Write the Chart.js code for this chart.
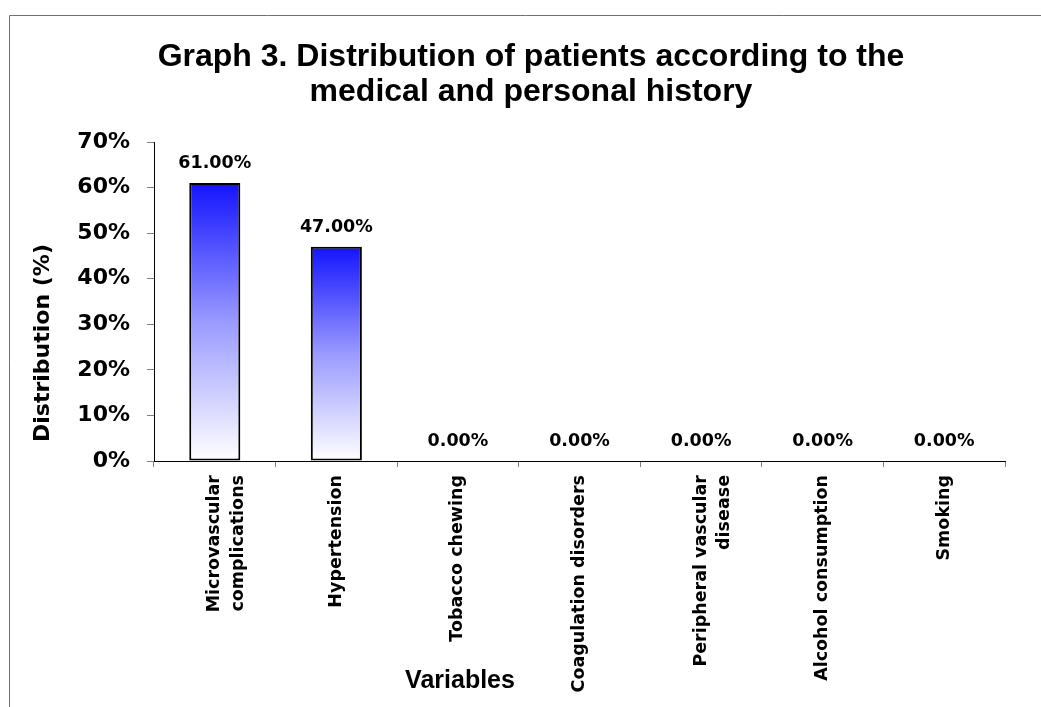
<!DOCTYPE html>
<html>
<head>
<meta charset="utf-8">
<script src="https://cdn.jsdelivr.net/npm/chart.js@4/dist/chart.umd.min.js"></script>
<style>
html,body{margin:0;padding:0;background:#fff;}
#wrap{width:1041px;height:707px;position:relative;}
</style>
</head>
<body>
<div id="wrap"><canvas id="c" width="1041" height="707"></canvas></div>
<script>
const categories = [
  ["Microvascular","complications"],
  "Hypertension",
  "Tobacco chewing",
  "Coagulation disorders",
  ["Peripheral vascular","disease"],
  "Alcohol consumption",
  "Smoking"
];
const values = [61, 47, 0, 0, 0, 0, 0];
const yTicks = [0, 10, 20, 30, 40, 50, 60, 70];
const titleLines = ["Graph 3. Distribution of patients according to the", "medical and personal history"];
const yTitle = "Distribution (%)";
const xTitle = "Variables";

const WIDE = "'DejaVu Sans', sans-serif";
const ARIAL = "'Liberation Sans', Arial, sans-serif";

function barGradient(ctx) {
  const chart = ctx.chart;
  if (!chart.chartArea || ctx.type !== 'data') return '#4040ff';
  const y = chart.scales.y;
  const v = ctx.raw;
  const top = y.getPixelForValue(v);
  const bot = y.getPixelForValue(0);
  if (bot - top < 1) return '#ffffff';
  const g = chart.ctx.createLinearGradient(0, top, 0, bot);
  g.addColorStop(0, '#1414ff');
  g.addColorStop(0.5, '#9a9aff');
  g.addColorStop(1, '#ffffff');
  return g;
}

const decor = {
  id: 'decor',
  beforeDraw(chart) {
    const c = chart.ctx;
    c.save();
    c.strokeStyle = '#707070';
    c.lineWidth = 1;
    c.beginPath();
    c.moveTo(9.5, 707);
    c.lineTo(9.5, 15.5);
    c.lineTo(1041, 15.5);
    c.stroke();
    c.restore();
  },
  afterDraw(chart) {
    const c = chart.ctx;
    c.save();
    c.fillStyle = '#000';
    c.textAlign = 'center';
    c.textBaseline = 'alphabetic';
    c.font = "bold 32px " + ARIAL;
    c.fillText(titleLines[0], 531, 66);
    c.fillText(titleLines[1], 531, 101);
    c.font = "bold 25px " + ARIAL;
    c.fillText(xTitle, 460, 688);
    c.translate(43, 343);
    c.rotate(-Math.PI / 2);
    c.textBaseline = 'middle';
    c.font = "bold 22px " + WIDE;
    c.fillText(yTitle, 0, 0);
    c.restore();
    // data labels
    c.save();
    c.fillStyle = '#000';
    c.textAlign = 'center';
    c.textBaseline = 'alphabetic';
    c.font = "bold 17.5px " + WIDE;
    const meta = chart.getDatasetMeta(0);
    meta.data.forEach((bar, i) => {
      c.fillText(values[i].toFixed(2) + '%', bar.x, bar.y - 15);
    });
    c.restore();
  }
};

new Chart(document.getElementById('c'), {
  type: 'bar',
  data: {
    labels: categories,
    datasets: [{
      data: values,
      backgroundColor: barGradient,
      borderColor: '#000',
      borderWidth: 2,
      borderSkipped: false,
      barPercentage: 0.84,
      categoryPercentage: 0.5
    }]
  },
  options: {
    responsive: false,
    animation: false,
    layout: { padding: { left: 0, right: 36, top: 142, bottom: 0 } },
    plugins: { legend: { display: false }, title: { display: false }, tooltip: { enabled: false } },
    scales: {
      x: {
        grid: { drawOnChartArea: false, tickLength: 6, color: '#808080', offset: true },
        border: { color: '#000', width: 1 },
        ticks: {
          color: '#000',
          font: { family: WIDE, size: 17.5, weight: 'bold', lineHeight: 1.35 },
          maxRotation: 90, minRotation: 90,
          padding: 8,
          autoSkip: false
        },
        afterFit(scale) { scale.height = 246; }
      },
      y: {
        min: 0, max: 70,
        grid: { drawOnChartArea: false, tickLength: 7, color: '#808080' },
        border: { color: '#000', width: 1 },
        afterBuildTicks(scale) { scale.ticks = yTicks.map(v => ({ value: v })); },
        ticks: {
          color: '#000',
          font: { family: WIDE, size: 22, weight: 'bold' },
          padding: 17,
          callback: v => v + '%'
        },
        afterFit(scale) { scale.width = 154; }
      }
    }
  },
  plugins: [decor]
});
</script>
</body>
</html>
